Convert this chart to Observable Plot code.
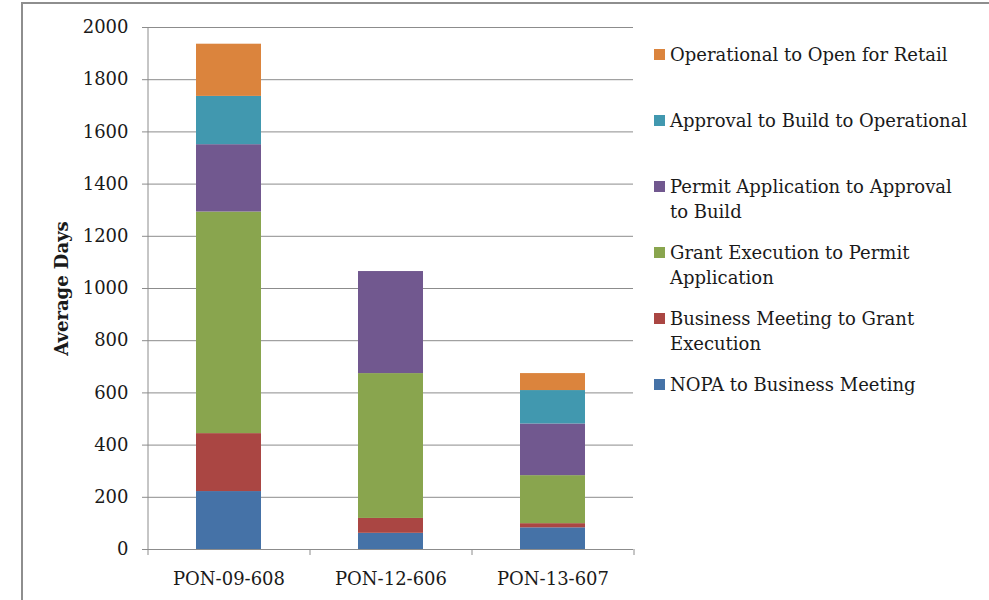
<!DOCTYPE html>
<html><head><meta charset="utf-8">
<script src="https://cdn.jsdelivr.net/npm/d3@7"></script>
<script src="https://cdn.jsdelivr.net/npm/@observablehq/plot@0.6"></script>
<style>
body{margin:0;background:#fff;}
#wrap{position:relative;width:989px;height:600px;overflow:hidden;font-family:"DejaVu Serif",serif;color:#1a1a1a;}
#frame{position:absolute;left:21px;top:2px;width:1000px;height:700px;border-left:2px solid #8e8e8e;border-top:2px solid #8e8e8e;box-sizing:border-box;}
#chart{position:absolute;left:0;top:0;}
#legend{position:absolute;left:654px;top:42px;width:320px;font-size:18px;line-height:25px;}
.item{position:absolute;left:0;width:320px;}
.sw{position:absolute;left:0;top:7px;width:11px;height:11px;}
.lab{position:absolute;left:16px;top:0;width:302px;}
</style></head>
<body>
<div id="wrap"><div id="frame"></div><div id="chart"></div><div id="legend"></div></div>
<script>
const categories = ["PON-09-608", "PON-12-606", "PON-13-607"];
const series = [
  "NOPA to Business Meeting",
  "Business Meeting to Grant Execution",
  "Grant Execution to Permit Application",
  "Permit Application to Approval to Build",
  "Approval to Build to Operational",
  "Operational to Open for Retail"
];
const nopaToMeeting = [222, 62, 83];
const meetingToGrant = [222, 57, 16];
const grantToPermit = [849, 555, 184];
const permitToApproval = [258, 391, 198];
const approvalToOperational = [185, 0, 128];
const operationalToRetail = [200, 0, 65];
const yTicks = [0, 200, 400, 600, 800, 1000, 1200, 1400, 1600, 1800, 2000];
const colors = ["#4572A7", "#AA4643", "#89A54E", "#71588F", "#4198AF", "#DB843D"];

const seriesValues = [nopaToMeeting, meetingToGrant, grantToPermit, permitToApproval, approvalToOperational, operationalToRetail];
const rows = [];
categories.forEach((c, ci) => {
  series.forEach((s, si) => rows.push({category: c, series: s, days: seriesValues[si][ci]}));
});

const W = 989, H = 600, ML = 147, MR = 356, MT = 27, MB = 51;
const step = (W - ML - MR) / categories.length;
const gray = "#8c8c8c";

const chart = Plot.plot({
  width: W, height: H,
  marginLeft: ML, marginRight: MR, marginTop: MT, marginBottom: MB,
  style: {fontFamily: "DejaVu Serif", fontSize: "18px", color: "#1a1a1a", background: "transparent"},
  x: {domain: categories, paddingInner: 0.6, paddingOuter: 0.3, axis: null},
  y: {domain: [0, 2000], axis: null},
  color: {domain: series, range: colors},
  marks: [
    Plot.gridY(yTicks, {stroke: gray, strokeOpacity: 1, strokeWidth: 1}),
    Plot.barY(rows, {x: "category", y: "days", fill: "series", order: series}),
    Plot.ruleY([0], {stroke: gray, strokeWidth: 1}),
    Plot.ruleX([categories[0]], {dx: -step / 2, y1: 0, y2: 2000, stroke: gray}),
    Plot.axisY(yTicks, {tickSize: 5, tickPadding: 14, stroke: gray, label: null, fill: "#1a1a1a", tickFormat: d => String(d)}),
    Plot.axisX({tickSize: 0, tickPadding: 23, label: null, fill: "#1a1a1a"}),
    Plot.axisX({text: null, tickSize: 6, dx: step / 2, stroke: gray, label: null}),
    Plot.axisX([categories[0]], {text: null, tickSize: 6, dx: -step / 2, stroke: gray, label: null}),
    Plot.text(["Average Days"], {frameAnchor: "left", textAnchor: "middle", lineAnchor: "middle", rotate: -90, dx: -85, fontWeight: "bold", fontSize: 18, fill: "#1a1a1a"})
  ]
});
document.getElementById("chart").appendChild(chart);

const legend = document.getElementById("legend");
series.slice().reverse().forEach((s, i) => {
  const item = document.createElement("div");
  item.className = "item";
  item.style.top = (i * 66) + "px";
  const sw = document.createElement("div");
  sw.className = "sw";
  sw.style.background = colors[series.indexOf(s)];
  const lab = document.createElement("div");
  lab.className = "lab";
  lab.textContent = s;
  item.appendChild(sw); item.appendChild(lab);
  legend.appendChild(item);
});
</script>
</body></html>
